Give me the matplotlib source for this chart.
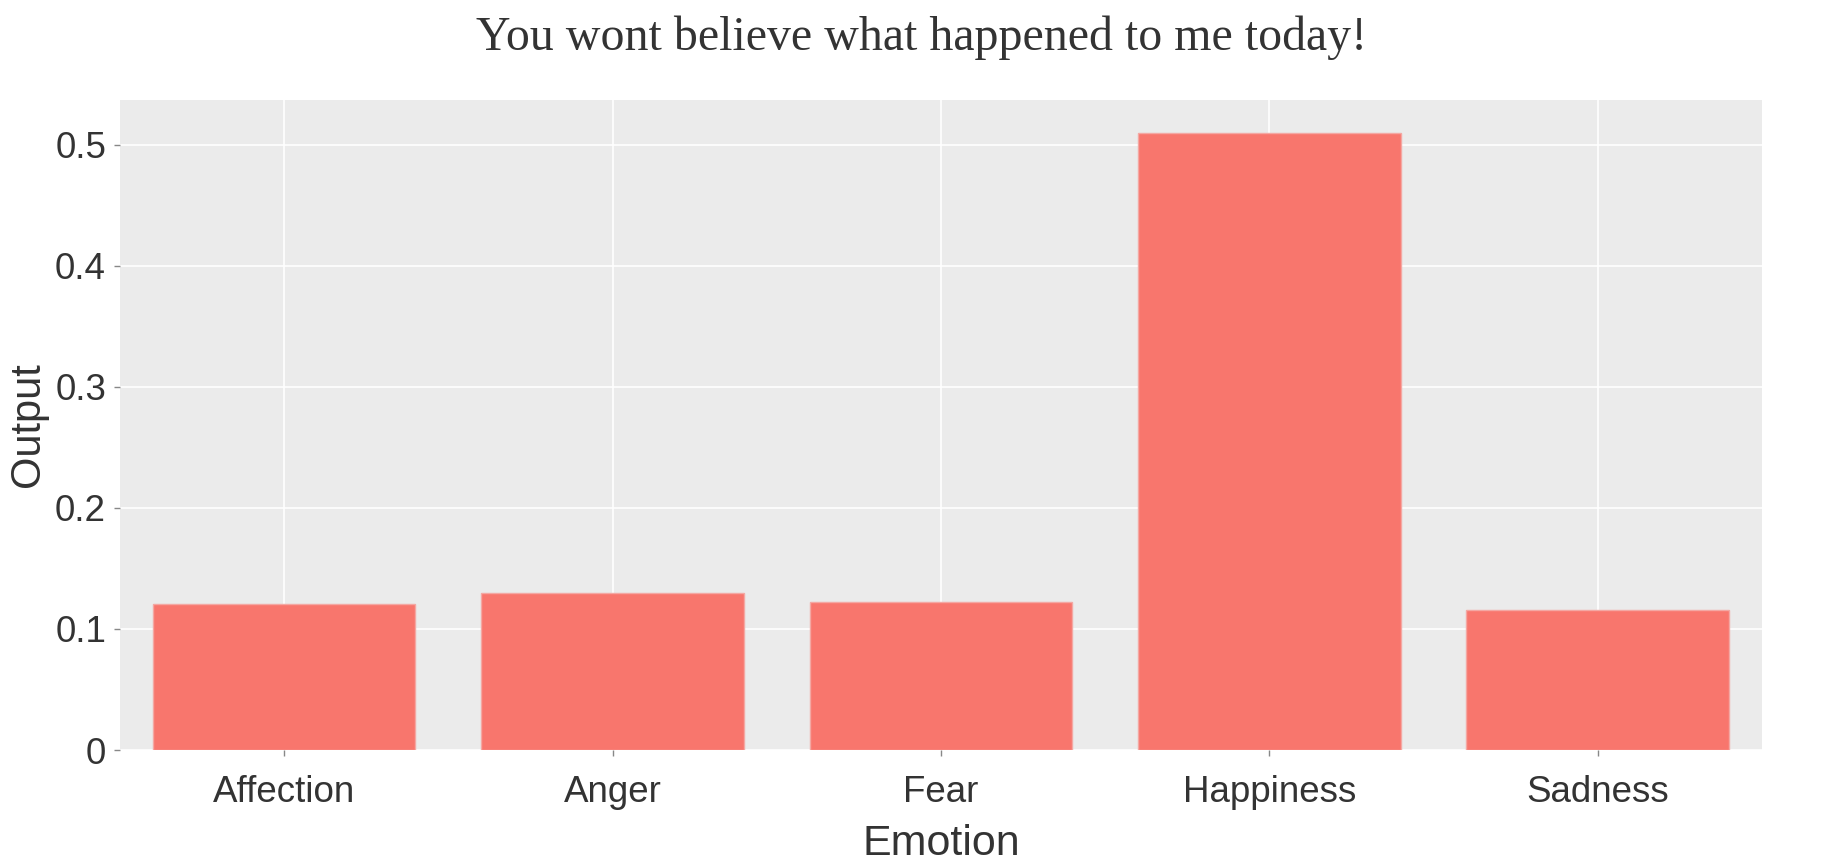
import numpy as np
import matplotlib
matplotlib.use("Agg")
import matplotlib.pyplot as plt

plt.rcParams['font.family'] = ['Liberation Sans', 'DejaVu Sans']

# data
emotions = ["Affection", "Anger", "Fear", "Happiness", "Sadness"]
outputs = [0.1207, 0.1294, 0.1226, 0.510, 0.1158]
y_ticks = [0, 0.1, 0.2, 0.3, 0.4, 0.5]
y_tick_labels = ["0", "0.1", "0.2", "0.3", "0.4", "0.5"]

fig = plt.figure(figsize=(18.42, 8.65), dpi=100)
ax = fig.add_axes([0.0651, 0.1329, 0.8915, 0.7515])
ax.set_facecolor('#EBEBEB')

x = np.arange(len(emotions))
ax.bar(x, outputs, width=0.8, color='#F8766D', edgecolor='#F4A8A3', linewidth=1.0, zorder=3)

ax.set_xlim(-0.5, len(emotions) - 0.5)
ax.set_ylim(0, 0.537)
ax.set_xticks(x)
ax.set_xticklabels(emotions)
ax.set_yticks(y_ticks)
ax.set_yticklabels(y_tick_labels)

ax.grid(True, color='white', linewidth=1.2, zorder=0)
ax.set_axisbelow(True)
for s in ax.spines.values():
    s.set_visible(False)

ax.tick_params(axis='both', labelsize=26.5, labelcolor='#333333', color='#888888',
               length=4, width=1)
ax.tick_params(axis='x', pad=14)
ax.tick_params(axis='y', pad=6)

ax.set_xlabel("Emotion", fontsize=31, color='#333333', labelpad=10)
ax.set_ylabel("Output", fontsize=30, color='#333333', labelpad=5)

fig.text(0.5, 0.956, "You wont believe what happened to me today!",
         ha='center', va='center', fontsize=34.5, color='#333333',
         family='Liberation Serif')

fig.savefig("out.png", dpi=100)
